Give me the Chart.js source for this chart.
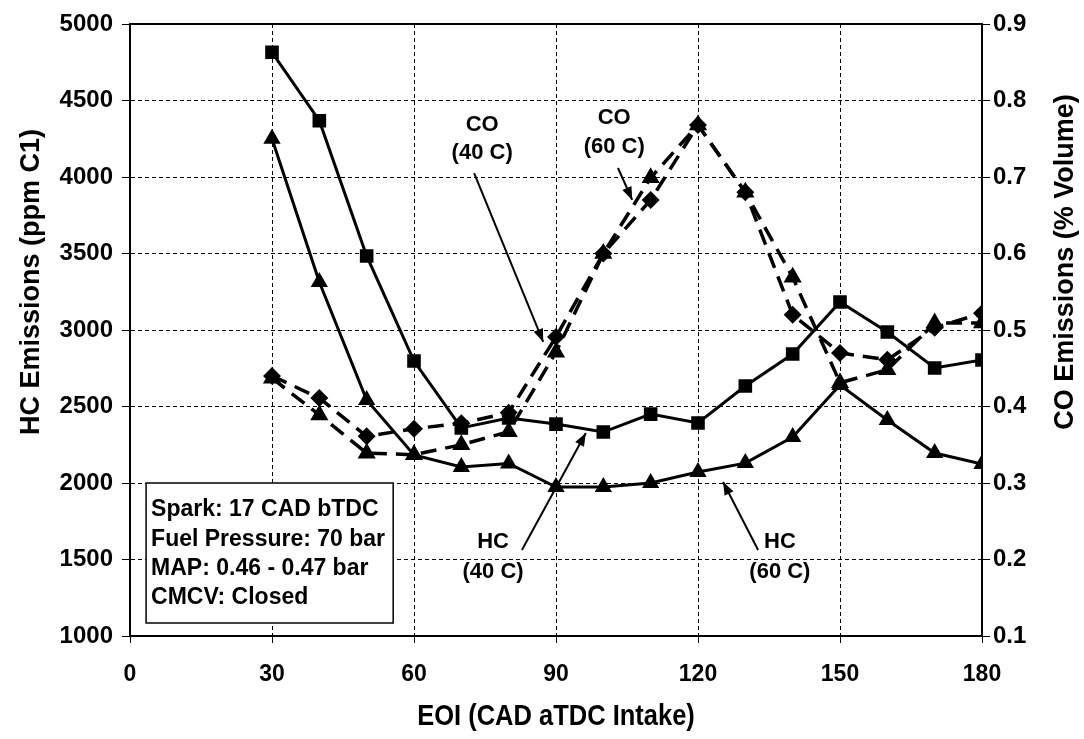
<!DOCTYPE html>
<html>
<head>
<meta charset="utf-8">
<script src="https://cdn.jsdelivr.net/npm/chart.js@4.4.1/dist/chart.umd.min.js"></script>
<style>
  html, body { margin: 0; padding: 0; background: #fff; }
</style>
</head>
<body>
<canvas id="c" width="1084" height="739"></canvas>
<script>
// EOI timing (CAD aTDC intake)
const eoi = [30, 40, 50, 60, 70, 80, 90, 100, 110, 120, 130, 140, 150, 160, 170, 180];
// HC emissions, ppm C1 (left axis)
const hc40 = [4815, 4368, 3484, 2797, 2360, 2425, 2385, 2333, 2450, 2392, 2634, 2843, 3183, 2987, 2752, 2804];
const hc60 = [4250, 3314, 2542, 2183, 2105, 2128, 1974, 1974, 2000, 2072, 2130, 2300, 2640, 2412, 2196, 2124];
// CO emissions, % volume (right axis)
const co40 = [0.440, 0.411, 0.361, 0.371, 0.378, 0.392, 0.491, 0.600, 0.670, 0.768, 0.680, 0.520, 0.470, 0.461, 0.503, 0.522];
const co60 = [0.437, 0.389, 0.339, 0.337, 0.350, 0.367, 0.471, 0.600, 0.699, 0.768, 0.680, 0.569, 0.431, 0.448, 0.509, 0.509];

const infoLines = ["Spark: 17 CAD bTDC", "Fuel Pressure: 70 bar", "MAP: 0.46 - 0.47 bar", "CMCV: Closed"];

// callouts: text position and pointer line, in data units
const callouts = [
  { lines: ["CO", "(40 C)"], x: 74.4, y: [4340, 4157], from: [72.7, 4026], to: [87.3, 2922] },
  { lines: ["CO", "(60 C)"], x: 102.3, y: [4386, 4196], from: [103.1, 4059], to: [106.1, 3850] },
  { lines: ["HC", "(40 C)"], x: 76.7, y: [1614, 1418], from: [82.8, 1562], to: [96.3, 2327] },
  { lines: ["HC", "(60 C)"], x: 137.3, y: [1614, 1418], from: [132.7, 1562], to: [125.3, 2007] }
];

const FONT = "'Liberation Sans', Arial, sans-serif";

function pts(ys) {
  return eoi.map((x, i) => ({ x: x, y: ys[i] }));
}

function arrow(ctx, x1, y1, x2, y2) {
  ctx.beginPath();
  ctx.moveTo(x1, y1);
  ctx.lineTo(x2, y2);
  ctx.stroke();
  const a = Math.atan2(y2 - y1, x2 - x1);
  const len = 13, w = 5;
  ctx.beginPath();
  ctx.moveTo(x2, y2);
  ctx.lineTo(x2 - len * Math.cos(a) + w * Math.sin(a), y2 - len * Math.sin(a) - w * Math.cos(a));
  ctx.lineTo(x2 - len * Math.cos(a) - w * Math.sin(a), y2 - len * Math.sin(a) + w * Math.cos(a));
  ctx.closePath();
  ctx.fill();
}

const extras = {
  id: "extras",
  afterDraw(chart) {
    const { ctx, chartArea: a, scales } = chart;
    const x = scales.x, y = scales.y;
    ctx.save();
    ctx.strokeStyle = "#000";
    ctx.fillStyle = "#000";

    // top frame line
    ctx.lineWidth = 2;
    ctx.beginPath();
    ctx.moveTo(a.left, a.top);
    ctx.lineTo(a.right, a.top);
    ctx.stroke();

    // axis titles
    ctx.font = "bold 27px " + FONT;
    ctx.textAlign = "center";
    ctx.textBaseline = "middle";
    ctx.save();
    ctx.translate(32, 282);
    ctx.rotate(-Math.PI / 2);
    ctx.fillText("HC Emissions (ppm C1)", 0, 0);
    ctx.restore();
    ctx.save();
    ctx.translate(1066, 262);
    ctx.rotate(-Math.PI / 2);
    ctx.fillText("CO Emissions (% Volume)", 0, 0);
    ctx.restore();
    ctx.font = "bold 30px " + FONT;
    ctx.save();
    ctx.translate((a.left + a.right) / 2, 717);
    ctx.scale(0.85, 1);
    ctx.fillText("EOI (CAD aTDC Intake)", 0, 0);
    ctx.restore();

    // info box
    const bx1 = x.getPixelForValue(3.4), bx2 = x.getPixelForValue(55.6);
    const by1 = y.getPixelForValue(2000), by2 = y.getPixelForValue(1085);
    ctx.fillStyle = "#fff";
    ctx.fillRect(bx1, by1, bx2 - bx1, by2 - by1);
    ctx.lineWidth = 1.5;
    ctx.strokeRect(bx1, by1, bx2 - bx1, by2 - by1);
    ctx.fillStyle = "#000";
    ctx.font = "bold 23px " + FONT;
    ctx.textAlign = "left";
    infoLines.forEach((t, i) => {
      ctx.fillText(t, bx1 + 5, by1 + 27 + i * 29.3);
    });

    // callouts
    ctx.font = "bold 22px " + FONT;
    ctx.textAlign = "center";
    ctx.lineWidth = 2;
    callouts.forEach(c => {
      c.lines.forEach((t, i) => ctx.fillText(t, x.getPixelForValue(c.x), y.getPixelForValue(c.y[i])));
      arrow(ctx, x.getPixelForValue(c.from[0]), y.getPixelForValue(c.from[1]),
        x.getPixelForValue(c.to[0]), y.getPixelForValue(c.to[1]));
    });
    ctx.restore();
  }
};

new Chart(document.getElementById("c"), {
  type: "line",
  data: {
    datasets: [
      { label: "HC (40 C)", data: pts(hc40), yAxisID: "y", borderColor: "#000", backgroundColor: "#000",
        borderWidth: 3, pointStyle: "rect", pointRadius: 7.5 },
      { label: "HC (60 C)", data: pts(hc60), yAxisID: "y", borderColor: "#000", backgroundColor: "#000",
        borderWidth: 3, pointStyle: "triangle", pointRadius: 7 },
      { label: "CO (40 C)", data: pts(co40), yAxisID: "y2", borderColor: "#000", backgroundColor: "#000",
        borderWidth: 3.5, borderDash: [16, 9], pointStyle: "rectRot", pointRadius: 6.5 },
      { label: "CO (60 C)", data: pts(co60), yAxisID: "y2", borderColor: "#000", backgroundColor: "#000",
        borderWidth: 3.5, borderDash: [16, 9], pointStyle: "triangle", pointRadius: 7 }
    ]
  },
  options: {
    responsive: false,
    animation: false,
    layout: { padding: { top: 24, left: 0, right: 0, bottom: 0 } },
    plugins: { legend: { display: false }, tooltip: { enabled: false } },
    elements: { line: { tension: 0 }, point: { borderWidth: 0 } },
    scales: {
      x: {
        type: "linear", min: 0, max: 180,
        ticks: { stepSize: 30, autoSkip: false, color: "#000", padding: 18,
          font: { family: FONT, size: 23, weight: "bold" } },
        grid: { color: "#000", lineWidth: 1, tickLength: 7, tickBorderDash: [] },
        border: { color: "#000", width: 2, dash: [4, 3] },
        afterFit(s) { s.height = 103; }
      },
      y: {
        position: "left", min: 1000, max: 5000,
        ticks: { stepSize: 500, autoSkip: false, color: "#000", padding: 9,
          font: { family: FONT, size: 24, weight: "bold" },
          callback: v => String(v) },
        grid: { color: "#000", lineWidth: 1, tickLength: 8, tickBorderDash: [] },
        border: { color: "#000", width: 2, dash: [4, 3] },
        afterFit(s) { s.width = 130; }
      },
      y2: {
        position: "right", min: 0.1, max: 0.9,
        ticks: { stepSize: 0.1, autoSkip: false, color: "#000", padding: 3,
          font: { family: FONT, size: 24, weight: "bold" },
          callback: v => v.toFixed(1) },
        grid: { drawOnChartArea: false, color: "#000", tickLength: 8 },
        border: { color: "#000", width: 2 },
        afterFit(s) { s.width = 102; }
      }
    }
  },
  plugins: [extras]
});
</script>
</body>
</html>
